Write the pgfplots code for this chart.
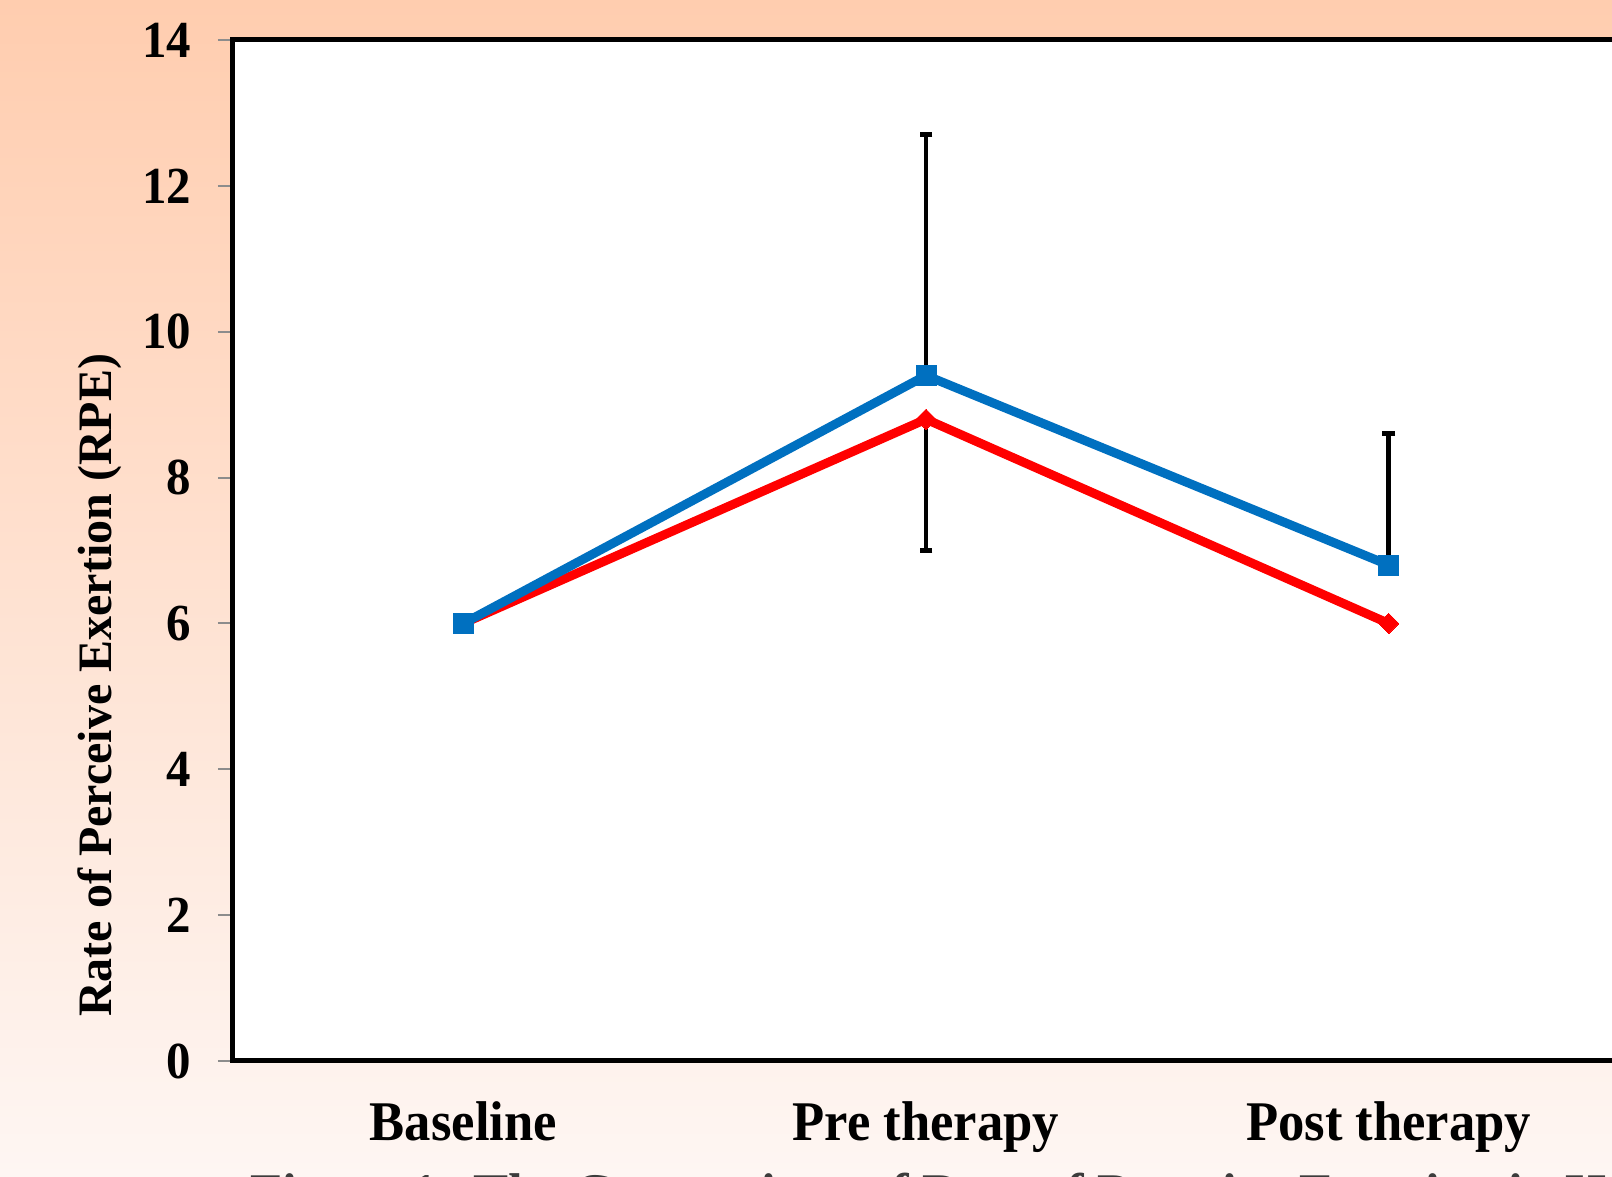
\documentclass[border=0pt]{standalone}
\usepackage{fontspec}
\setmainfont{Liberation Serif}
\newfontfamily\cond[FakeStretch=0.94]{Liberation Serif}
\usepackage{pgfplots}
\pgfplotsset{compat=1.18}
\definecolor{bluel}{HTML}{0070C0}
\definecolor{redl}{HTML}{FF0000}
\definecolor{bgtop}{HTML}{FFCDAF}
\definecolor{bgbot}{HTML}{FEF6F3}
\definecolor{tickgray}{HTML}{8C8C8C}
\begin{document}
\begin{tikzpicture}
\useasboundingbox (0,0) rectangle (806pt,588.5pt);
\clip (0,0) rectangle (806pt,588.5pt);
\shade[top color=bgtop, bottom color=bgbot] (0,0) rectangle (806pt,588.5pt);
\begin{axis}[
  at={(116pt,58pt)}, anchor=south west,
  scale only axis, width=694pt, height=510.5pt,
  xmin=0, xmax=3, ymin=0, ymax=14,
  axis background/.style={fill=white},
  axis line style={black, line width=2.5pt},
  xtick={0.5,1.5,2.5},
  xticklabels={Baseline, Pre therapy, Post therapy},
  minor xtick={0,1,2},
  ytick={0,2,...,14},
  tick align=outside,
  tick pos=left,
  major tick length=7pt,
  minor tick length=7pt,
  xtick style={draw=none},
  every minor tick/.style={draw=tickgray, line width=1pt},
  ytick style={tickgray, line width=1pt},
  /pgf/number format/assume math mode=true,
  yticklabel style={font=\cond\fontsize{26}{26}\selectfont\bfseries, xshift=-10pt},
  xticklabel style={font=\cond\fontsize{28}{28}\selectfont\bfseries, anchor=base, yshift=-33pt},
  ylabel={Rate of Perceive Exertion (RPE)},
  ylabel style={font=\fontsize{24}{24}\selectfont\bfseries, at={(axis description cs:0,0.368)}, anchor=center, yshift=66pt},
  clip=false,
]
\addplot[redl, line width=4.5pt, mark=square*, mark size=3.6pt, mark options={rotate=45, line width=0pt}]
  coordinates {(0.5,6) (1.5,8.8) (2.5,6)};
\addplot[bluel, line width=4.5pt, mark=square*, mark size=5pt, mark options={line width=0pt}]
  coordinates {(0.5,6) (1.5,9.4) (2.5,6.8)};
% error bars (blue: plus, red: minus)
\addplot[draw=none, mark=none, forget plot,
  error bars/.cd, y dir=plus, y explicit, error mark=none,
  error bar style={draw=black, line width=2.2pt}]
  coordinates {(1.5,9.4) +- (0,3.3) (2.5,6.8) +- (0,1.8)};
\addplot[draw=none, mark=none, forget plot,
  error bars/.cd, y dir=minus, y explicit, error mark=none,
  error bar style={draw=black, line width=2.2pt}]
  coordinates {(1.5,8.8) +- (0,1.8)};
% error bar caps at the bar ends
\addplot[only marks, forget plot, mark=-, mark size=3.2pt, mark options={draw=black, line width=2.6pt}]
  coordinates {(1.5,12.7) (2.5,8.6) (1.5,7.0)};
\end{axis}
\node[anchor=base west, text={rgb,255:red,60;green,60;blue,60}, font=\cond\fontsize{28}{28}\selectfont\bfseries, inner sep=0pt] at (125pt,-18pt) {Figure 1: The Comparison of Rate of Perceive Exertion in Healthy Subjects};
\end{tikzpicture}
\end{document}
